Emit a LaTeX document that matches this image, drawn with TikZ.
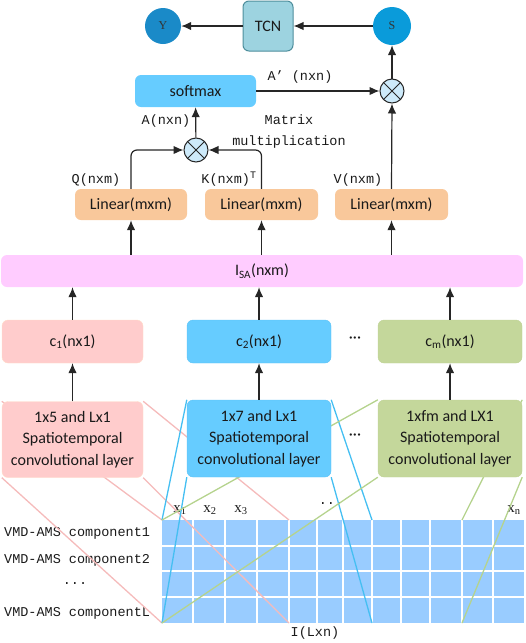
\documentclass[tikz,border=0pt]{standalone}
\usepackage{fontspec}
\setmainfont{Carlito}
\newfontfamily\monof{Liberation Mono}
\newfontfamily\serf{Liberation Serif}
\usetikzlibrary{arrows.meta}
\definecolor{pinkf}{HTML}{FFCCCC}
\definecolor{pinkd}{HTML}{FFDCC8}
\definecolor{bluef}{HTML}{66CCFF}
\definecolor{blued}{HTML}{5CC2F5}
\definecolor{greenf}{HTML}{C4D79B}
\definecolor{greend}{HTML}{BFD396}
\definecolor{peach}{HTML}{F9C89B}
\definecolor{isaf}{HTML}{FFCCFF}
\definecolor{tcnf}{HTML}{9DD3E0}
\definecolor{tcnd}{HTML}{4E8E9C}
\definecolor{ycol}{HTML}{1A8AC8}
\definecolor{scol}{HTML}{0A9BDA}
\definecolor{mulf}{HTML}{CDEAFA}
\definecolor{gridf}{HTML}{99CCFF}
\definecolor{lpink}{HTML}{F5BBBB}
\definecolor{lblue}{HTML}{45BFF2}
\definecolor{lgreen}{HTML}{B5D38D}
\definecolor{txt}{HTML}{1A1A1A}
\pgfdeclarelayer{back}
\pgfdeclarelayer{mid}
\pgfsetlayers{back,mid,main}
\begin{document}
\begin{tikzpicture}[x=1pt,y=-1pt,
  box/.style={rectangle, rounded corners=6pt, inner sep=0pt, align=center, text=txt,
    font=\fontsize{16}{21.5}\selectfont},
  arr/.style={-{Latex[length=10pt,width=8.5pt]}, line width=1.2pt, draw=black!85},
  mono/.style={font=\monof\fontsize{13.5}{15}\selectfont, inner sep=0pt, text=txt},
  sermath/.style={font=\serf\fontsize{15}{17}\selectfont, inner sep=0pt, text=txt},
  mul/.style={circle, draw=black!85, line width=1pt, fill=mulf, minimum size=24pt, inner sep=0pt},
  proj/.style={line width=1.3pt},
  gridline/.style={white, line width=1.3pt}]
\useasboundingbox (0,0) rectangle (526,643);

% ---- nodes ----
\node[box, fill=tcnf, draw=tcnd, line width=1pt, minimum width=50pt, minimum height=50pt] (tcn) at (268,26) {TCN};
\node[circle, fill=ycol, minimum size=36pt, inner sep=0pt, font=\serf\fontsize{12}{12}\selectfont, text=black!80] (y) at (163,26) {Y};
\node[circle, fill=scol, minimum size=38pt, inner sep=0pt, font=\serf\fontsize{12}{12}\selectfont, text=black!80] (s) at (392,26) {S};
\node[box, fill=bluef, minimum width=121pt, minimum height=32pt] (soft) at (195.5,91) {softmax};
\node[mul] (mr) at (392,91) {};
\node[mul] (ml) at (196,150) {};
\node[box, fill=peach, minimum width=112pt, minimum height=31pt] (l1) at (131,204.5) {Linear(mxm)};
\node[box, fill=peach, minimum width=113pt, minimum height=31pt] (l2) at (261.5,204.5) {Linear(mxm)};
\node[box, fill=peach, minimum width=113pt, minimum height=31pt] (l3) at (391.5,204.5) {Linear(mxm)};
\node[box, fill=isaf, minimum width=522pt, minimum height=32pt] (isa) at (262,271) {I\textsubscript{SA}(nxm)};
\node[box, fill=pinkf, draw=pinkd, minimum width=141pt, minimum height=43pt] (c1) at (72.5,341.5) {c\textsubscript{1}(nx1)};
\node[box, fill=bluef, draw=blued, minimum width=144pt, minimum height=43pt] (c2) at (259,341.5) {c\textsubscript{2}(nx1)};
\node[box, fill=greenf, draw=greend, minimum width=144pt, minimum height=43pt] (c3) at (450,341.5) {c\textsubscript{m}(nx1)};
\node[box, fill=pinkf, draw=pinkd, minimum width=141pt, minimum height=76pt] (k1) at (72.5,439.5) {1x5 and Lx1\\Spatiotemporal\\convolutional layer};
\node[box, fill=bluef, draw=blued, minimum width=144pt, minimum height=77pt] (k2) at (259,438.5) {1x7 and Lx1\\Spatiotemporal\\convolutional layer};
\node[box, fill=greenf, draw=greend, minimum width=144pt, minimum height=77pt] (k3) at (450,438.5) {1xfm and LX1\\Spatiotemporal\\convolutional layer};
\node[font=\fontsize{16}{16}\selectfont, text=txt] (d1) at (355,340) {\textperiodcentered\textperiodcentered\textperiodcentered};
\node[font=\fontsize{16}{16}\selectfont, text=txt] (d2) at (355,437) {\textperiodcentered\textperiodcentered\textperiodcentered};

% multiply signs
\draw[black!85, line width=0.9pt] (ml.45) -- (ml.225) (ml.135) -- (ml.315);
\draw[black!85, line width=0.9pt] (mr.45) -- (mr.225) (mr.135) -- (mr.315);

% ---- labels ----
\node[mono] (la1) at (300,77) {A’ (nxn)};
\node[mono] (la2) at (166,121) {A(nxn)};
\node[mono] (lmm1) at (289,120) {Matrix};
\node[mono] (lmm2) at (289,142) {multiplication};
\node[mono] (lq) at (96,180) {Q(nxm)};
\node[mono] (lk) at (229,179) {K(nxm)\textsuperscript{\fontsize{10}{10}\selectfont T}};
\node[mono] (lv) at (358,180) {V(nxm)};

% ---- arrows ----
\draw[arr] (s) -- (tcn);
\draw[arr] (tcn) -- (y);
\draw[arr] (mr) -- (s);
\draw[arr] (soft) -- (mr);
\draw[arr] (ml) -- (soft);
\draw[arr] (l3.north) -- (mr.south);
\draw[arr, rounded corners=6pt] (l1.north) |- (ml.west);
\draw[arr, rounded corners=6pt] (l2.north) |- (ml.east);
\draw[arr] (l1.south |- isa.north) -- (l1.south);
\draw[arr] (l2.south |- isa.north) -- (l2.south);
\draw[arr] (l3.south |- isa.north) -- (l3.south);
\draw[arr] (c1.north) -- (c1.north |- isa.south);
\draw[arr] (c2.north) -- (c2.north |- isa.south);
\draw[arr] (c3.north) -- (c3.north |- isa.south);
\draw[arr] (k1.north) -- (c1.south);
\draw[arr] (k2.north) -- (c2.south);
\draw[arr] (k3.north) -- (c3.south);

% ---- input grid ----
\begin{pgfonlayer}{back}
\fill[gridf] (162,520) rectangle (524,623);
\foreach \gx in {193,225,257,289,317,343,372,401,430,462,493}
  \draw[gridline] (\gx,520) -- (\gx,623);
\foreach \gy in {546,571,597}
  \draw[gridline] (162,\gy) -- (524,\gy);
\node[sermath] (x1) at (180,510) {x\textsubscript{1}};
\node[sermath] (x2) at (210,510) {x\textsubscript{2}};
\node[sermath] (x3) at (241,510) {x\textsubscript{3}};
\node[mono] (xd) at (331,504) {...};
\node[sermath] (xn) at (514,510) {x\textsubscript{n}};
\node[mono, anchor=west] (r1) at (4,533) {VMD-AMS component1};
\node[mono, anchor=west] (r2) at (4,560) {VMD-AMS component2};
\node[mono] (rd) at (75,584) {...};
\node[mono, anchor=west] (rL) at (4,613) {VMD-AMS componentL};
\node[mono] (il) at (315,633) {I(Lxn)};
\end{pgfonlayer}

\coordinate (gTL) at (162,520);
\coordinate (gBL) at (162,623);
\coordinate (pTR) at (289,520);
\coordinate (pBR) at (289,623);
\coordinate (bTR) at (372,520);
\coordinate (bBR) at (372,623);
\coordinate (eTR) at (462,520);
\coordinate (eBR) at (462,623);

\begin{pgfonlayer}{mid}
\draw[proj, lpink] (k1.north west) -- (gTL) (k1.south west) -- (gBL)
  (k1.north east) -- (pTR) (k1.south east) -- (pBR);
\draw[proj, lblue] (k2.north west) -- (gTL) (k2.south west) -- (gBL)
  (k2.north east) -- (bTR) (k2.south east) -- (bBR);
\draw[proj, lgreen] (k3.north west) -- (gTL) (k3.south west) -- (gBL)
  (k3.north east) -- (eTR) (k3.south east) -- (eBR);
\end{pgfonlayer}
\end{tikzpicture}
\end{document}
